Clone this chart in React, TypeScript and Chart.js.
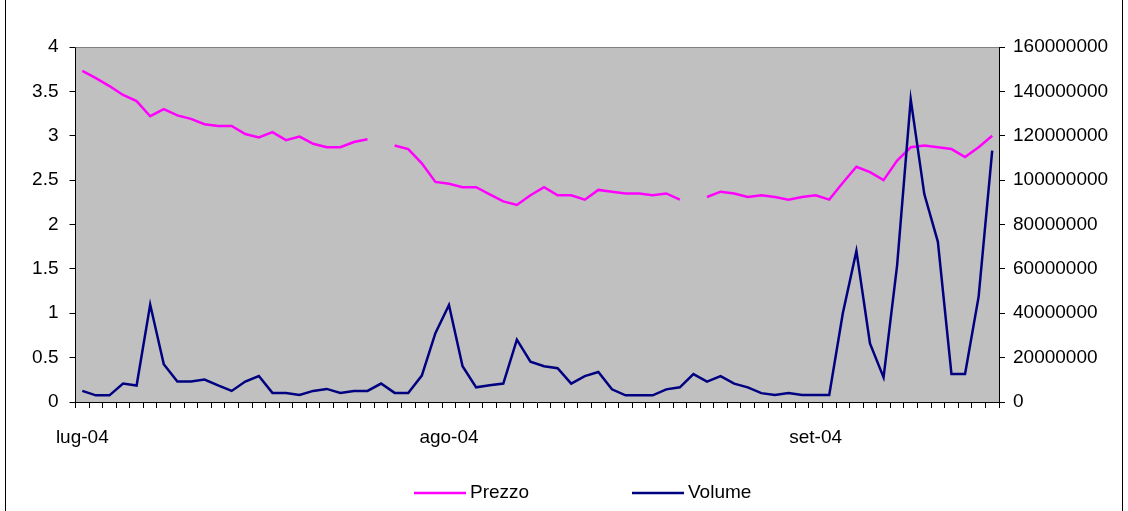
import React, { useEffect, useRef } from 'react';
import { Chart, registerables } from 'chart.js';

Chart.register(...registerables);

const monthLabels = ['lug-04', 'ago-04', 'set-04'];
const monthStarts = [0, 27, 54];

const prezzo: (number | null)[] = [
  3.73, 3.65, 3.56, 3.46, 3.39, 3.22, 3.30, 3.23, 3.19, 3.13,
  3.11, 3.11, 3.02, 2.98, 3.04, 2.95, 2.99, 2.91, 2.87, 2.87,
  2.93, 2.96, null, 2.89, 2.85, 2.69, 2.48, 2.46, 2.42, 2.42,
  2.34, 2.26, 2.22, 2.33, 2.42, 2.33, 2.33, 2.28, 2.39, 2.37,
  2.35, 2.35, 2.33, 2.35, 2.28, null, 2.31, 2.37, 2.35, 2.31,
  2.33, 2.31, 2.28, 2.31, 2.33, 2.28, 2.47, 2.65, 2.59, 2.50,
  2.72, 2.87, 2.89, 2.87, 2.85, 2.76, 2.87, 3.00,
];

const volume: number[] = [
  5000000, 3000000, 3000000, 8300000, 7400000, 43900000, 17000000, 9200000, 9200000, 10100000,
  7500000, 5000000, 9200000, 11700000, 4100000, 4100000, 3200000, 5000000, 5900000, 4100000,
  5000000, 5000000, 8300000, 4100000, 4100000, 11900000, 31000000, 43700000, 16100000, 6600000,
  7500000, 8300000, 28100000, 18200000, 16100000, 15200000, 8300000, 11700000, 13500000, 5700000,
  3000000, 3000000, 3000000, 5700000, 6600000, 12600000, 9200000, 11700000, 8300000, 6600000,
  4000000, 3200000, 4100000, 3200000, 3200000, 3200000, 40000000, 68100000, 26400000, 11100000,
  61700000, 136400000, 93700000, 72200000, 12600000, 12600000, 47500000, 113300000,
];

const seriesNames = ['Prezzo', 'Volume'];
const seriesColors = ['#FF00FF', '#000080'];

const categories = prezzo.map((_, i) => String(i + 1));

const FONT = "'Liberation Sans', Arial, sans-serif";

const decorPlugin = {
  id: 'decor',
  beforeDraw(chart: any) {
    const { ctx, chartArea } = chart;
    ctx.save();
    ctx.fillStyle = '#C0C0C0';
    ctx.fillRect(chartArea.left, chartArea.top, chartArea.right - chartArea.left, chartArea.bottom - chartArea.top);
    ctx.restore();
  },
  afterDraw(chart: any) {
    const { ctx, chartArea } = chart;
    ctx.save();
    // plot area top border
    ctx.strokeStyle = '#808080';
    ctx.lineWidth = 1;
    ctx.beginPath();
    ctx.moveTo(chartArea.left, chartArea.top + 0.5);
    ctx.lineTo(chartArea.right, chartArea.top + 0.5);
    ctx.stroke();
    // outer chart border
    ctx.strokeStyle = '#000000';
    ctx.beginPath();
    ctx.moveTo(5.5, 0);
    ctx.lineTo(5.5, chart.height);
    ctx.moveTo(1122.5, 0);
    ctx.lineTo(1122.5, chart.height);
    ctx.stroke();
    // legend
    const items = [
      { x: 414, text: seriesNames[0], color: seriesColors[0] },
      { x: 632, text: seriesNames[1], color: seriesColors[1] },
    ];
    const ly = 493;
    ctx.font = `19px ${FONT}`;
    ctx.textBaseline = 'middle';
    ctx.textAlign = 'left';
    items.forEach((it) => {
      ctx.strokeStyle = it.color;
      ctx.lineWidth = 2.5;
      ctx.beginPath();
      ctx.moveTo(it.x, ly);
      ctx.lineTo(it.x + 52, ly);
      ctx.stroke();
      ctx.fillStyle = '#000000';
      ctx.fillText(it.text, it.x + 56, ly);
    });
    ctx.restore();
  },
};

export default function App() {
  const ref = useRef<HTMLCanvasElement>(null);
  useEffect(() => {
    if (!ref.current) return;
    const chart = new Chart(ref.current, {
      type: 'line',
      data: {
        labels: categories,
        datasets: [
          {
            label: seriesNames[0],
            data: prezzo,
            borderColor: seriesColors[0],
            backgroundColor: seriesColors[0],
            borderWidth: 2.5,
            pointRadius: 0,
            tension: 0,
            spanGaps: false,
            yAxisID: 'y',
            order: 1,
          },
          {
            label: seriesNames[1],
            data: volume,
            borderColor: seriesColors[1],
            backgroundColor: seriesColors[1],
            borderWidth: 2.5,
            pointRadius: 0,
            tension: 0,
            yAxisID: 'y1',
            order: 0,
          },
        ],
      },
      options: {
        animation: false,
        responsive: false,
        layout: { padding: { top: 47, left: 0, right: 0, bottom: 0 } },
        plugins: {
          legend: { display: false },
          tooltip: { enabled: false },
        },
        scales: {
          x: {
            offset: true,
            afterFit: (s: any) => { s.height = 109; },
            grid: { offset: true, drawOnChartArea: false, drawTicks: true, tickLength: 6, color: '#000000' },
            border: { color: '#000000', width: 1 },
            ticks: {
              autoSkip: false,
              maxRotation: 0,
              minRotation: 0,
              padding: 18,
              color: '#000000',
              font: { family: FONT, size: 19 },
              callback: (_v: any, idx: number) => {
                const k = monthStarts.indexOf(idx);
                return k >= 0 ? monthLabels[k] : '';
              },
            },
          },
          y: {
            position: 'left',
            min: 0,
            max: 4,
            afterFit: (s: any) => { s.width = 75.5; },
            grid: { drawOnChartArea: false, drawTicks: true, tickLength: 6, color: '#000000' },
            border: { color: '#000000', width: 1 },
            ticks: {
              stepSize: 0.5,
              padding: 11,
              color: '#000000',
              font: { family: FONT, size: 19 },
              callback: (v: any) => String(v),
            },
          },
          y1: {
            position: 'right',
            min: 0,
            max: 160000000,
            afterFit: (s: any) => { s.width = 129; },
            grid: { drawOnChartArea: false, drawTicks: true, tickLength: 6, color: '#000000' },
            border: { color: '#000000', width: 1 },
            ticks: {
              stepSize: 20000000,
              padding: 8,
              color: '#000000',
              font: { family: FONT, size: 19 },
              callback: (v: any) => String(v),
            },
          },
        },
      },
      plugins: [decorPlugin],
    } as any);
    return () => chart.destroy();
  }, []);
  return (
    <div style={{ position: 'fixed', left: 0, top: 0, width: 1128, height: 511, background: '#ffffff' }}>
      <canvas ref={ref} width={1128} height={511} style={{ display: 'block', width: 1128, height: 511 }} />
    </div>
  );
}
